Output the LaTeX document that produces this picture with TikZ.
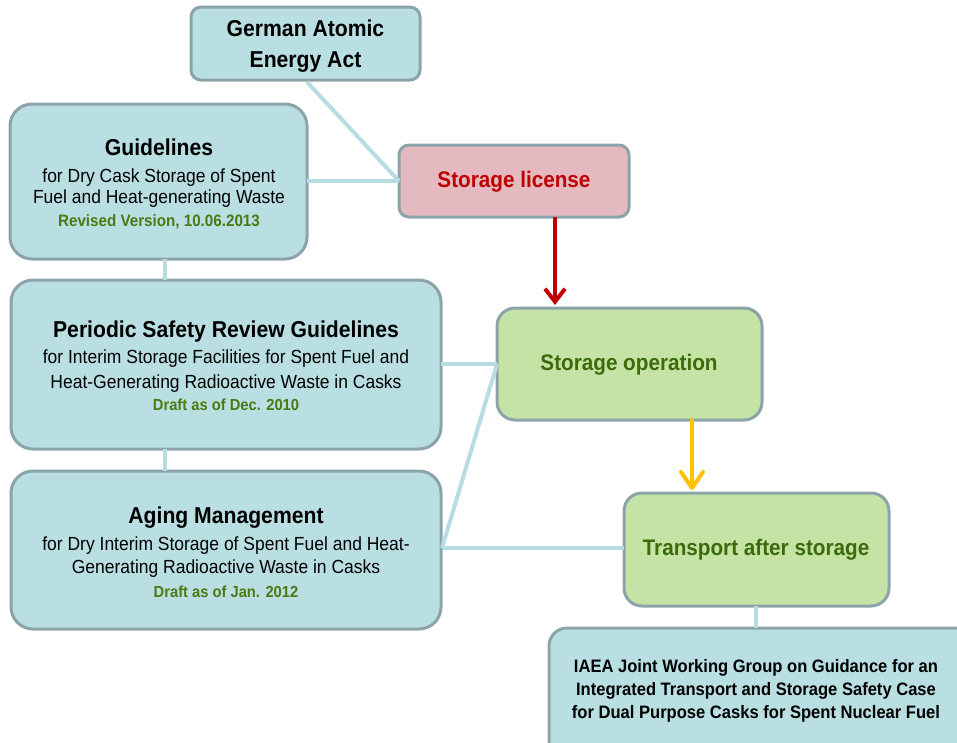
\documentclass[tikz,border=0pt]{standalone}
\usepackage{fontspec}
\setmainfont{Liberation Sans}[FakeStretch=0.92]
\usetikzlibrary{arrows.meta}
\definecolor{boxblue}{HTML}{B9DFE3}
\definecolor{boxedge}{HTML}{8CA4A9}
\definecolor{linkblue}{HTML}{B7DDE2}
\definecolor{boxpink}{HTML}{E5B9C0}
\definecolor{boxgreen}{HTML}{C5E3A5}
\definecolor{darkred}{HTML}{C00000}
\definecolor{darkgreen}{HTML}{3B6B0A}
\definecolor{datagreen}{HTML}{4A7A12}
\definecolor{amber}{HTML}{FFC000}
\tikzset{
  card/.style={draw=boxedge, line width=3pt, fill=boxblue, rounded corners=#1},
  card/.default=22pt,
  link/.style={draw=linkblue, line width=4pt},
  ttl/.style={font=\bfseries\fontsize{23}{31}\selectfont, text=black, align=center},
  sub/.style={font=\fontsize{19}{23}\selectfont, text=black, align=center},
  grn/.style={font=\bfseries\fontsize{16}{20}\selectfont, text=datagreen},
  lbl/.style={font=\bfseries\fontsize{22.5}{26}\selectfont, align=center}
}
\begin{document}
\begin{tikzpicture}[x=1pt,y=-1pt]
\useasboundingbox (0,0) rectangle (957,742);
\begin{scope}
\clip (0,0) rectangle (957,742);

% boxes
\draw[card=10pt] (191,7) rectangle (420,80);
\node (atom) [inner sep=0, minimum width=229pt, minimum height=73pt] at (305.5,43.5) {};
\draw[card] (10,104) rectangle (307,259);
\node (guide) [inner sep=0, minimum width=297pt, minimum height=155pt] at (158.5,181.5) {};
\draw[card=10pt, fill=boxpink] (399,145) rectangle (629,217);
\node (lic) [inner sep=0, minimum width=230pt, minimum height=72pt] at (514,181) {};
\draw[card] (11,280) rectangle (441,449);
\node (psr) [inner sep=0, minimum width=430pt, minimum height=169pt] at (226,364.5) {};
\draw[card] (11,471) rectangle (441,629);
\node (aging) [inner sep=0, minimum width=430pt, minimum height=158pt] at (226,550) {};
\draw[card=18pt, fill=boxgreen] (497,308) rectangle (762,420);
\node (oper) [inner sep=0, minimum width=265pt, minimum height=112pt] at (629.5,364) {};
\draw[card=18pt, fill=boxgreen] (624,493) rectangle (889,606);
\node (trans) [inner sep=0, minimum width=265pt, minimum height=113pt] at (756.5,549.5) {};
\draw[card=18pt] (549,628) rectangle (980,770);
\node (iaea) [inner sep=0, minimum width=431pt, minimum height=142pt] at (764.5,699) {};

% connector end points
\coordinate (atomB) at (307,82);
\coordinate (licW) at (399,181);
\coordinate (operW) at (497,364);
\coordinate (agingE) at (442,548);

% connectors
\draw[link] (atomB) -- (licW);
\draw[link] (guide.east |- licW) -- (licW);
\draw[link] (165,259) -- (165,280);
\draw[link] (165,449) -- (165,471);
\draw[link] (psr.east |- operW) -- (operW);
\draw[link] (agingE) -- (operW);
\draw[link] (agingE) -- (trans.west |- agingE);
\draw[link] (756,606) -- (756,628);

% arrows
\draw[darkred, line width=4pt, -{Straight Barb[length=13pt,width=20pt,line width=4pt]}]
  (555,217) -- (555,305);
\draw[amber, line width=4pt, line cap=round, -{Straight Barb[length=16pt,width=22pt,line width=4pt,round]}]
  (692,420) -- (692,490);

% texts
\node[ttl] (atomT) at (305.5,46) {German Atomic\\Energy Act};

\node[ttl, anchor=base] (guideT) at (159,155) {Guidelines};
\node[sub, anchor=base] (guideS) at (159,182) {for Dry Cask Storage of Spent};
\node[sub, anchor=base] (guideS2) at (159,203) {Fuel and Heat-generating Waste};
\node[grn, font=\bfseries\fontsize{16.5}{20}\selectfont, anchor=base] (guideD) at (159,226) {Revised Version, 10.06.2013};

\node[ttl, anchor=base] (psrT) at (226,337) {Periodic Safety Review Guidelines};
\node[sub, anchor=base] (psrS) at (226,363) {for Interim Storage Facilities for Spent Fuel and};
\node[sub, anchor=base] (psrS2) at (226,388) {Heat-Generating Radioactive Waste in Casks};
\node[grn, anchor=base] (psrD) at (226,410) {Draft as of Dec. 2010};

\node[ttl, anchor=base] (agingT) at (226,523) {Aging Management};
\node[sub, anchor=base] (agingS) at (226,550) {for Dry Interim Storage of Spent Fuel and Heat-};
\node[sub, anchor=base] (agingS2) at (226,573) {Generating Radioactive Waste in Casks};
\node[grn, anchor=base] (agingD) at (226,597) {Draft as of Jan. 2012};

\node[lbl, text=darkred] (licT) at (514,182) {Storage license};
\node[lbl, text=darkgreen] (operT) at (629,365) {Storage operation};
\node[lbl, text=darkgreen] (transT) at (756,550) {Transport after storage};

\node[sub, font=\bfseries\fontsize{18}{23}\selectfont, anchor=base] (iaeaT) at (756,672) {IAEA Joint Working Group on Guidance for an};
\node[sub, font=\bfseries\fontsize{18}{23}\selectfont, anchor=base] (iaeaT2) at (756,695) {Integrated Transport and Storage Safety Case};
\node[sub, font=\bfseries\fontsize{18}{23}\selectfont, anchor=base] (iaeaT3) at (756,718) {for Dual Purpose Casks for Spent Nuclear Fuel};
\end{scope}
\end{tikzpicture}
\end{document}
